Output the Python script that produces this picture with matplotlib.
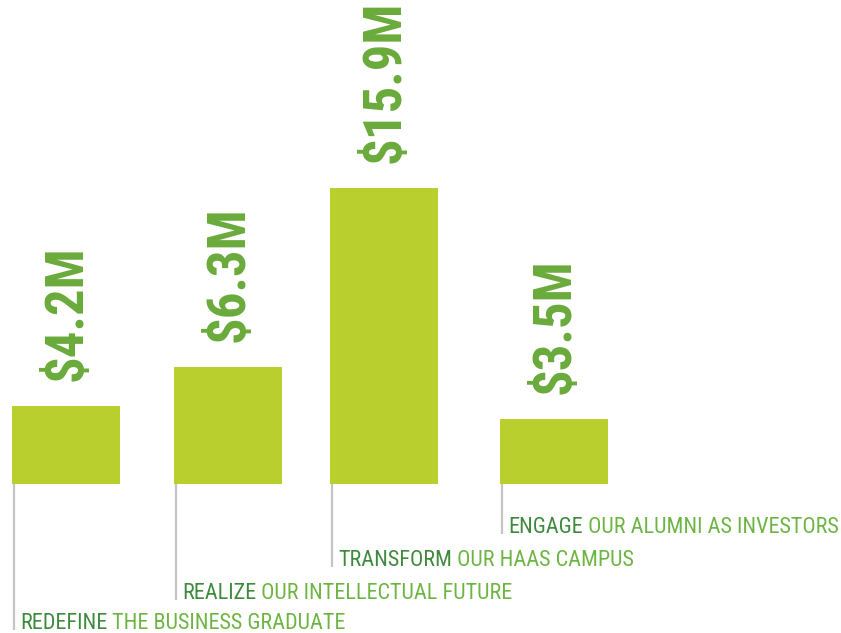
import matplotlib
matplotlib.use("Agg")
import matplotlib.pyplot as plt
from matplotlib import font_manager as fm

# ---- data ----
values = [4.2, 6.3, 15.9, 3.5]
value_labels = ["$4.2M", "$6.3M", "$15.9M", "$3.5M"]
lead_words = ["REDEFINE", "REALIZE", "TRANSFORM", "ENGAGE"]
rest_words = ["THE BUSINESS GRADUATE", "OUR INTELLECTUAL FUTURE",
              "OUR HAAS CAMPUS", "OUR ALUMNI AS INVESTORS"]

# ---- layout ----
W, H = 841, 633
BASE_PX = 484.0
PX_PER_M = 18.6
bar_left_px = [12, 174, 330, 500]
bar_width_px = 108
label_baseline_px = [629, 599, 566, 533]

BAR_COLOR = "#b8cf2e"
VAL_COLOR = "#6aab3b"
DARK_GREEN = "#3e8a3c"
LIGHT_GREEN = "#6db543"
LINE_COLOR = "#c4c4c4"

avail = {f.name for f in fm.fontManager.ttflist}
cands = ["Liberation Sans Narrow", "DejaVu Sans Condensed", "Roboto Condensed", "Liberation Sans", "DejaVu Sans"]
fam = next(c for c in cands if c in avail)


def py(p):
    return (BASE_PX - p) / PX_PER_M


fig = plt.figure(figsize=(W / 100, H / 100), dpi=100)
ax = fig.add_axes([0, 0, 1, 1])
ax.set_xlim(0, W)
ax.set_ylim(py(H), py(0))
ax.axis("off")

centers = [l + bar_width_px / 2 for l in bar_left_px]
ax.bar(centers, values, width=bar_width_px, color=BAR_COLOR, zorder=2)

for i, v in enumerate(values):
    ax.text(centers[i] + 1, v + 25 / PX_PER_M, value_labels[i], rotation=90,
            ha="center", va="bottom", color=VAL_COLOR, fontsize=38,
            fontweight="bold", family=fam, fontstretch="condensed")
    lx = bar_left_px[i] + 2
    ax.plot([lx, lx], [0, py(label_baseline_px[i] + 1)], color=LINE_COLOR,
            lw=1.6, solid_capstyle="butt", zorder=1)
    t = ax.text(lx + 6, py(label_baseline_px[i]), lead_words[i], ha="left",
                va="baseline", color=DARK_GREEN, fontsize=15.9, family=fam)
    ax.annotate(" " + rest_words[i], xy=(1, 0), xycoords=t, ha="left",
                va="bottom", color=LIGHT_GREEN, fontsize=15.9, family=fam)

fig.savefig("out.png", dpi=100)
